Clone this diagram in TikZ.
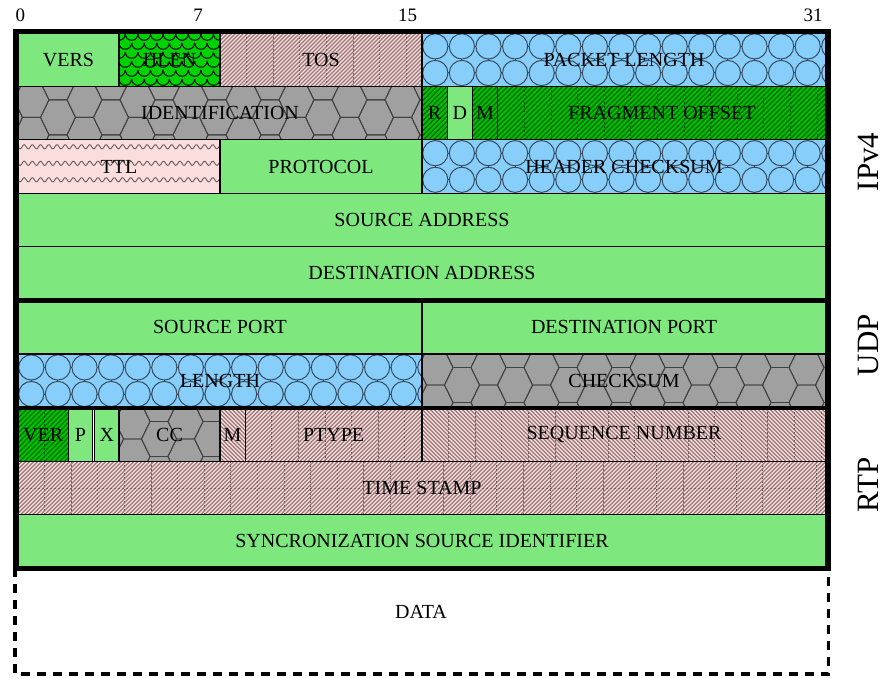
\documentclass[tikz,border=0pt]{standalone}
\usepackage{fontspec}
\setmainfont{Liberation Serif}

% field colours
\definecolor{fieldgreen}{RGB}{126,232,126}
\definecolor{fieldblue}{RGB}{135,206,250}
\definecolor{circleline}{RGB}{55,75,95}
\definecolor{fieldgrey}{RGB}{160,160,160}
\definecolor{hexline}{RGB}{65,65,65}
\definecolor{fieldpink}{RGB}{250,222,222}
\definecolor{pinkline}{RGB}{152,120,120}
\definecolor{pinkdash}{RGB}{120,95,95}
\definecolor{waveline}{RGB}{105,90,90}
\definecolor{fielddark}{RGB}{0,195,0}
\definecolor{darkline}{RGB}{0,110,0}
\definecolor{darkdash}{RGB}{0,85,0}
\definecolor{scalegreen}{RGB}{0,210,0}

\tikzset{
  cellborder/.style={draw=black, line width=1.2pt},
  lbl/.style={inner sep=0pt, font=\fontsize{20}{20}\selectfont, text=black},
  bitno/.style={inner sep=0pt, font=\fontsize{19}{19}\selectfont},
  layername/.style={inner sep=0pt, font=\fontsize{31}{31}\selectfont, rotate=90},
  heavyframe/.style={draw=black, line width=5pt},
  gridline/.style={line width=0.8pt, dash pattern=on 2pt off 2pt},
}

% plain green field
\newcommand\plainfield[4]{%
  \fill[fieldgreen] (#1,#2) rectangle (#3,#4);
  \draw[cellborder] (#1,#2) rectangle (#3,#4);}

% blue field with a grid of circles joined by short ticks
\newcommand\circlefield[4]{%
  \fill[fieldblue] (#1,#2) rectangle (#3,#4);
  \begin{scope}
    \clip (#1,#2) rectangle (#3,#4);
    \pgfmathtruncatemacro\ncols{(#3-#1)/26.6+1}
    \foreach \i in {0,...,\ncols}{
      \foreach \j in {0,1}{
        \draw[circleline, line width=1pt] ({#1+13.3+26.6*\i},{#2+13.4+26.6*\j}) circle[radius=12.6pt];
        \draw[circleline, line width=1pt] ({#1+25.9+26.6*\i},{#2+13.4+26.6*\j}) -- ++(1.4,0);
        \draw[circleline, line width=1pt] ({#1+13.3+26.6*\i},{#2+26*\j}) -- ++(0,1.4);
      }}
  \end{scope}
  \draw[cellborder] (#1,#2) rectangle (#3,#4);}

% grey field with a honeycomb
\newcommand\hexfield[4]{%
  \fill[fieldgrey] (#1,#2) rectangle (#3,#4);
  \begin{scope}
    \clip (#1,#2) rectangle (#3,#4);
    \pgfmathtruncatemacro\ncols{(#3-#1)/26.5+2}
    \foreach \m in {-2,...,\ncols}{
      \foreach \n in {-2,...,2}{
        \pgfmathtruncatemacro\hpar{mod(\m+\n+10,2)}
        \ifnum\hpar=0
          \draw[hexline, line width=0.9pt] ({#1+40+26.5*\m},{#2+31+17.5*\n})
            ++(-17.5,0) -- ++(8.5,-17.5) -- ++(18,0) -- ++(8.5,17.5) -- ++(-8.5,17.5) -- ++(-18,0) -- cycle;
        \fi
      }}
  \end{scope}
  \draw[cellborder] (#1,#2) rectangle (#3,#4);}

% pink field with wavy lines (wavelength 8.2)
\newcommand\wavefield[4]{%
  \fill[fieldpink] (#1,#2) rectangle (#3,#4);
  \begin{scope}
    \clip (#1,#2) rectangle (#3,#4);
    \foreach \w in {0,1,2,3}{
      \draw[waveline, line width=0.9pt, domain=0:#3-#1, samples=260, smooth]
        plot ({#1+\x},{#2+7+16.5*\w+2.1*sin(\x*43.9)});
    }
  \end{scope}
  \draw[cellborder] (#1,#2) rectangle (#3,#4);}

% bright green field with fish scales
\newcommand\scalefield[4]{%
  \fill[scalegreen] (#1,#2) rectangle (#3,#4);
  \begin{scope}
    \clip (#1,#2) rectangle (#3,#4);
    \foreach \k in {0,...,6}{
      \foreach \i in {-1,...,8}{
        \pgfmathsetmacro\cx{#1+12.6*\i+6.3*mod(\k,2)}
        \pgfmathsetmacro\cy{#2+1+9*\k}
        \draw[black, line width=1pt] ({\cx-6.3},\cy) arc[start angle=180, end angle=360, radius=6.3pt];
      }}
  \end{scope}
  \draw[cellborder] (#1,#2) rectangle (#3,#4);}

% hatched field: x1,y1,x2,y2, fill, hatch colour, direction (1 = /, 0 = \), grid colour, spacing
\newcommand\stripefield[9]{%
  \fill[#5] (#1,#2) rectangle (#3,#4);
  \begin{scope}
    \clip (#1,#2) rectangle (#3,#4);
    \pgfmathsetmacro\fh{#4-#2}
    \pgfmathtruncatemacro\nl{(#3-#1+\fh)/#9+1}
    \foreach \k in {0,...,\nl}{
      \ifnum#7=1
        \draw[#6, line width=1.3pt] ({#1-\fh+#9*\k},#4) -- ++(\fh,-\fh);
      \else
        \draw[#6, line width=1.3pt] ({#1-\fh+#9*\k},#2) -- ++(\fh,\fh);
      \fi
    }
    \pgfmathtruncatemacro\nv{(#3-#1)/26.6}
    \ifnum\nv>0
      \foreach \k in {1,...,\nv}{
        \draw[#8, gridline] ({#1+26.6*\k},#2) -- ++(0,\fh);
      }
    \fi
  \end{scope}
  \draw[cellborder] (#1,#2) rectangle (#3,#4);}

\begin{document}
\begin{tikzpicture}[x=1pt,y=-1pt]
\useasboundingbox (0,0) rectangle (893,679);

% ---------- IPv4 header ----------
\plainfield{18}{33}{119}{86.4}
\scalefield{119}{33}{220}{86.4}
\stripefield{220}{33}{422}{86.4}{fieldpink}{pinkline}{1}{pinkdash}{4}
\circlefield{422}{33}{826}{86.4}

\hexfield{18}{86.4}{422}{139.8}
\stripefield{422}{86.4}{447.25}{139.8}{fielddark}{darkline}{1}{darkdash}{5}
\plainfield{447.25}{86.4}{472.5}{139.8}
\stripefield{472.5}{86.4}{497.75}{139.8}{fielddark}{darkline}{1}{darkdash}{5}
\stripefield{497.75}{86.4}{826}{139.8}{fielddark}{darkline}{1}{darkdash}{5}

\wavefield{18}{139.8}{220}{193.2}
\plainfield{220}{139.8}{422}{193.2}
\circlefield{422}{139.8}{826}{193.2}

\plainfield{18}{193.2}{826}{246.6}
\plainfield{18}{246.6}{826}{300}

% ---------- UDP header ----------
\plainfield{18}{300}{422}{354}
\plainfield{422}{300}{826}{354}
\circlefield{18}{354}{422}{408}
\hexfield{422}{354}{826}{408}

% ---------- RTP header ----------
\stripefield{18}{408}{68.5}{461.3}{fielddark}{darkline}{1}{darkdash}{5}
\plainfield{68.5}{408}{92.3}{461.3}
\plainfield{94.8}{408}{119}{461.3}
\hexfield{119}{408}{220}{461.3}
\stripefield{220}{408}{245.25}{461.3}{fieldpink}{pinkline}{0}{pinkdash}{4}
\stripefield{245.25}{408}{422}{461.3}{fieldpink}{pinkline}{1}{pinkdash}{4}
\stripefield{422}{408}{826}{461.3}{fieldpink}{pinkline}{0}{pinkdash}{4}

\stripefield{18}{461.3}{826}{514.7}{fieldpink}{pinkline}{1}{pinkdash}{4}
\draw[pinkdash, gridline] (18,488) -- (826,488);
\draw[cellborder] (18,461.3) rectangle (826,514.7);

\plainfield{18}{514.7}{826}{568}

% ---------- heavy outline and header separators ----------
\draw[heavyframe] (15,32) rectangle (828.5,568);
\draw[heavyframe] (15,300) -- (828.5,300);
\draw[heavyframe, line width=4.5pt] (15,408) -- (828.5,408);

% ---------- payload ----------
\draw[line width=3.5pt, dash pattern=on 9pt off 7pt] (15,568) -- (15,674) -- (828.5,674) -- (828.5,568);
\node[lbl] (data) at (421,612) {DATA};

% ---------- field names ----------
\node[lbl] (vers) at (68.5,59.7) {VERS};
\node[lbl] (hlen) at (169.5,59.7) {HLEN};
\node[lbl] (tos) at (321,59.7) {TOS};
\node[lbl] (pktlen) at (624,59.7) {PACKET LENGTH};

\node[lbl] (ident) at (220,113.1) {IDENTIFICATION};
\node[lbl] (flagr) at (434.6,113.1) {R};
\node[lbl] (flagd) at (459.9,113.1) {D};
\node[lbl] (flagm) at (485.1,113.1) {M};
\node[lbl] (fragoff) at (661.9,113.1) {FRAGMENT OFFSET};

\node[lbl] (ttl) at (119,166.5) {TTL};
\node[lbl] (proto) at (321,166.5) {PROTOCOL};
\node[lbl] (hdrsum) at (624,166.5) {HEADER CHECKSUM};

\node[lbl] (srcaddr) at (422,219.9) {SOURCE ADDRESS};
\node[lbl] (dstaddr) at (422,273.3) {DESTINATION ADDRESS};

\node[lbl] (srcport) at (220,327) {SOURCE PORT};
\node[lbl] (dstport) at (624,327) {DESTINATION PORT};
\node[lbl] (udplen) at (220,381) {LENGTH};
\node[lbl] (udpsum) at (624,381) {CHECKSUM};

\node[lbl] (rtpver) at (43.25,434.7) {VER};
\node[lbl] (rtpp) at (80.4,434.7) {P};
\node[lbl] (rtpx) at (106.9,434.7) {X};
\node[lbl] (rtpcc) at (169.5,434.7) {CC};
\node[lbl] (rtpm) at (232.6,434.7) {M};
\node[lbl] (ptype) at (333.6,434.7) {PTYPE};
\node[lbl] (seqno) at (624,434.7) {SEQUENCE NUMBER};
\node[lbl] (tstamp) at (422,488) {TIME STAMP};
\node[lbl] (ssrc) at (422,541.3) {SYNCRONIZATION SOURCE IDENTIFIER};

% ---------- bit positions ----------
\node[bitno] (bit0) at (20.5,15.5) {0};
\node[bitno] (bit7) at (198,15.5) {7};
\node[bitno] (bit15) at (407.5,15.5) {15};
\node[bitno] (bit31) at (813,15.5) {31};

% ---------- protocol layers ----------
\node[layername] (ipv4) at (868,162) {IPv4};
\node[layername] (udp) at (868,345) {UDP};
\node[layername] (rtp) at (868,485) {RTP};
\end{tikzpicture}
\end{document}
